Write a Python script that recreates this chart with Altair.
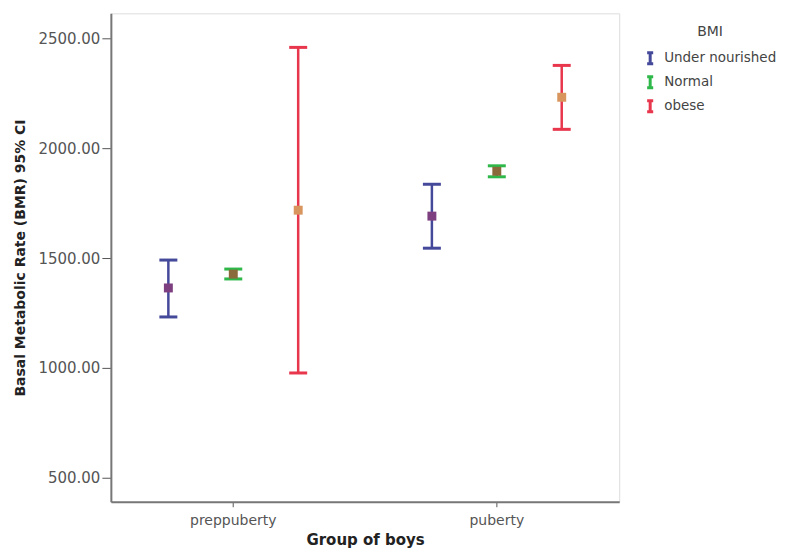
import altair as alt
import pandas as pd

groups = ["preppuberty", "puberty"]
bmi_levels = ["Under nourished", "Normal", "obese"]

group_col = ["preppuberty", "preppuberty", "preppuberty", "puberty", "puberty", "puberty"]
bmi_col = ["Under nourished", "Normal", "obese", "Under nourished", "Normal", "obese"]
means = [1364, 1427, 1718, 1691, 1895, 2232]
lower = [1232, 1405, 977, 1545, 1870, 2086]
upper = [1491, 1450, 2459, 1836, 1920, 2377]

bar_colors = ["#45499a", "#2fb84a", "#e8364c"]
marker_colors = ["#7d3f80", "#8a6a3a", "#d8955e"]

df = pd.DataFrame({"group": group_col, "bmi": bmi_col, "mean": means,
                   "lower": lower, "upper": upper})

FONT = "DejaVu Sans"

yscale = alt.Scale(domain=[391, 2614], nice=False, zero=False)

base = alt.Chart(df).encode(
    x=alt.X("group:N", sort=groups,
            scale=alt.Scale(paddingInner=0.261, paddingOuter=0.095),
            axis=alt.Axis(title="Group of boys", labelAngle=0, tickSize=5,
                          labelPadding=7, titlePadding=5,
                          labelFontSize=14, labelColor="#555555",
                          titleFontSize=15, titleFontWeight="bold",
                          titleColor="#222222", labelFont=FONT, titleFont=FONT,
                          domainColor="#777777", tickColor="#555555",
                          domainWidth=2)),
    xOffset=alt.XOffset("bmi:N", sort=bmi_levels,
                        scale=alt.Scale(paddingInner=0, paddingOuter=0)),
)

color_enc = alt.Color("bmi:N", sort=bmi_levels,
                      scale=alt.Scale(domain=bmi_levels, range=bar_colors),
                      legend=alt.Legend(title="BMI", orient="none",
                                        legendX=533, legendY=12,
                                        symbolType="M-0.55,-1H0.55M0,-1V1M-0.55,1H0.55",
                                        symbolSize=121, symbolStrokeWidth=3,
                                        symbolFillColor="transparent",
                                        symbolOpacity=1,
                                        labelFontSize=13.5, labelFont=FONT,
                                        labelColor="#444444", labelOffset=7,
                                        rowPadding=0, titleFont=FONT,
                                        titleFontSize=14, titleFontWeight="normal",
                                        titleColor="#444444", titleAnchor="middle",
                                        titlePadding=12))

rule = base.mark_rule(strokeWidth=2.5, opacity=1).encode(
    y=alt.Y("lower:Q", scale=yscale,
            axis=alt.Axis(title="Basal Metabolic Rate (BMR) 95% CI",
                          values=[500, 1000, 1500, 2000, 2500], format=".2f",
                          tickSize=9, labelPadding=2, grid=False,
                          labelFontSize=15, labelColor="#555555",
                          titleFontSize=14, titleFontWeight="bold",
                          titleColor="#222222", titlePadding=10,
                          labelFont=FONT, titleFont=FONT,
                          domainColor="#777777", tickColor="#555555",
                          domainWidth=2)),
    y2="upper:Q",
    color=color_enc,
)

tick_lo = base.mark_tick(size=18, thickness=3, opacity=1).encode(
    y=alt.Y("lower:Q", scale=yscale), color=color_enc)
tick_hi = base.mark_tick(size=18, thickness=3, opacity=1).encode(
    y=alt.Y("upper:Q", scale=yscale), color=color_enc)

pts = base.mark_square(size=80, opacity=1).encode(
    y=alt.Y("mean:Q", scale=yscale),
    fill=alt.Fill("bmi:N", sort=bmi_levels,
                  scale=alt.Scale(domain=bmi_levels, range=marker_colors),
                  legend=None),
)

chart = alt.layer(rule, tick_lo, tick_hi, pts).properties(
    width=509, height=489,
    autosize=alt.AutoSizeParams(type="none"),
    padding={"left": 103, "top": 5, "right": 168, "bottom": 50},
).configure_view(stroke="#777777", strokeWidth=2).configure(background="white")

chart.save("out.html", embed_options={"renderer": "svg", "actions": False})
